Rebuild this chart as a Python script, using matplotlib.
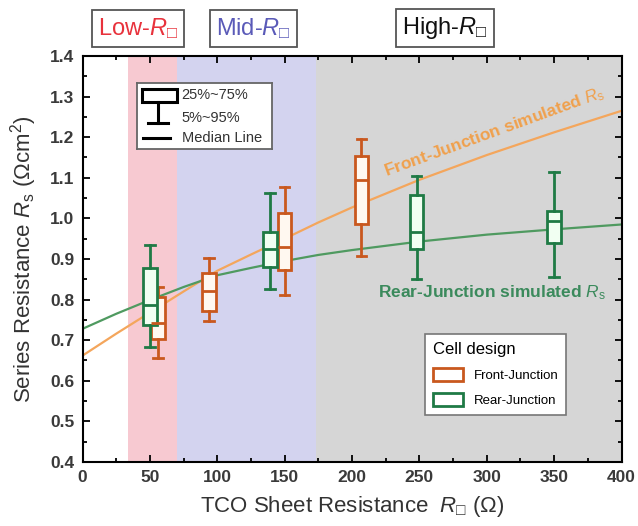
import matplotlib
matplotlib.use('Agg')
import matplotlib.pyplot as plt
from matplotlib.patches import Patch, Rectangle
from matplotlib.ticker import MultipleLocator

plt.rcParams['font.family'] = ['Liberation Sans', 'DejaVu Sans']
plt.rcParams['mathtext.fontset'] = 'custom'
plt.rcParams['mathtext.rm'] = 'Liberation Sans'
plt.rcParams['mathtext.it'] = 'Liberation Sans:italic'
plt.rcParams['mathtext.bf'] = 'Liberation Sans:bold'

# measured distributions (whisker low, q1, median, q3, whisker high)
front_pos = [56, 94, 150, 207]
front_lo = [0.657, 0.748, 0.812, 0.908]
front_q1 = [0.702, 0.773, 0.873, 0.985]
front_med = [0.742, 0.822, 0.930, 1.095]
front_q3 = [0.807, 0.865, 1.014, 1.154]
front_hi = [0.830, 0.902, 1.077, 1.196]

rear_pos = [50, 139, 248, 350]
rear_lo = [0.683, 0.826, 0.850, 0.855]
rear_q1 = [0.737, 0.881, 0.924, 0.940]
rear_med = [0.787, 0.925, 0.967, 0.994]
rear_q3 = [0.877, 0.967, 1.058, 1.017]
rear_hi = [0.934, 1.063, 1.105, 1.114]

# simulated Rs curves
sim_x = [0, 25, 50, 75, 100, 125, 150, 175, 200, 250, 300, 350, 400]
sim_front = [0.662, 0.716, 0.768, 0.820, 0.871, 0.911, 0.950, 0.990, 1.027, 1.095, 1.156, 1.212, 1.265]
sim_rear = [0.728, 0.765, 0.799, 0.831, 0.860, 0.878, 0.895, 0.910, 0.922, 0.943, 0.960, 0.973, 0.985]

regions = [(34, 70, '#f7c9d1'), (70, 173.5, '#d3d3ef'), (173.5, 400, '#d6d6d6')]

c_front = '#c9581e'
c_rear = '#1f7a45'
RSQ = r'$\mathit{R}_{\mathrm{□}}$'

fig = plt.figure(figsize=(6.38, 5.26), dpi=100)
ax = fig.add_axes([82.5 / 638, 1 - 462 / 526, 539 / 638, 406 / 526])

for x0, x1, col in regions:
    ax.axvspan(x0, x1, color=col, lw=0, zorder=0)

ax.plot(sim_x, sim_front, color='#f4a65c', lw=1.6, zorder=2)
ax.plot(sim_x, sim_rear, color='#4f9a60', lw=1.6, zorder=2)


def stats(pos, lo, q1, med, q3, hi):
    return [dict(whislo=a, q1=b, med=c, q3=d, whishi=e, fliers=[])
            for a, b, c, d, e in zip(lo, q1, med, q3, hi)]


for s, p, col, fill in [
        (stats(front_pos, front_lo, front_q1, front_med, front_q3, front_hi), front_pos, c_front, '#fff8f0'),
        (stats(rear_pos, rear_lo, rear_q1, rear_med, rear_q3, rear_hi), rear_pos, c_rear, '#f1fff2')]:
    ax.bxp(s, positions=p, widths=10, capwidths=7, patch_artist=True, manage_ticks=False,
           boxprops=dict(facecolor=fill, edgecolor=col, lw=2),
           whiskerprops=dict(color=col, lw=2), capprops=dict(color=col, lw=2),
           medianprops=dict(color=col, lw=2), zorder=3)

ax.set_xlim(0, 400)
ax.set_ylim(0.4, 1.4)
ax.xaxis.set_major_locator(MultipleLocator(50))
ax.xaxis.set_minor_locator(MultipleLocator(25))
ax.yaxis.set_major_locator(MultipleLocator(0.1))
ax.yaxis.set_minor_locator(MultipleLocator(0.05))
ax.tick_params(which='both', direction='in', top=True, right=True, width=1.3)
ax.tick_params(which='major', length=5, labelsize=12.5, labelcolor='#3a3a3a', pad=6)
ax.tick_params(which='minor', length=3)
for lab in ax.get_xticklabels() + ax.get_yticklabels():
    lab.set_fontweight('bold')
for sp in ax.spines.values():
    sp.set_linewidth(1.5)

ax.set_xlabel('TCO Sheet Resistance  ' + RSQ + r' ($\Omega$)', fontsize=16, color='#333333', labelpad=6)
ax.set_ylabel(r'Series Resistance $\mathit{R}_\mathrm{s}$ ($\Omega$cm$^2$)', fontsize=16, color='#333333', labelpad=8)

# region labels above the plot
for xc, txt, col in [(41.5, 'Low-' + RSQ, '#e8323c'),
                     (127, 'Mid-' + RSQ, '#5a5ab8'),
                     (269, 'High-' + RSQ, '#111111')]:
    ax.text(xc, 1.068, txt, transform=ax.get_xaxis_transform(), ha='center', va='center',
            fontsize=17, color=col, clip_on=False,
            bbox=dict(boxstyle='square,pad=0.25', fc='white', ec='#555555', lw=1.3))

ax.text(306, 1.213, r'Front-Junction simulated $\mathit{R}_\mathrm{s}$',
        color='#f0a04c', fontsize=12.5, fontweight='bold', rotation=20,
        ha='center', va='center', rotation_mode='anchor', zorder=4)
ax.text(304, 0.818, r'Rear-Junction simulated $\mathit{R}_\mathrm{s}$',
        color='#3b8a5c', fontsize=12.5, fontweight='bold', ha='center', va='center', zorder=4)

handles = [Patch(facecolor='white', edgecolor=c_front, lw=2, label='Front-Junction'),
           Patch(facecolor='white', edgecolor=c_rear, lw=2, label='Rear-Junction')]
leg = ax.legend(handles=handles, title='Cell design', loc='upper left',
                bbox_to_anchor=((425 - 82.5) / 539, (462 - 334) / 406),
                fontsize=9.5, title_fontsize=12, alignment='left', fancybox=False,
                framealpha=1, edgecolor='#777777', handlelength=2.3, handleheight=1.1,
                borderaxespad=0, labelspacing=0.85, borderpad=0.6)
leg.get_frame().set_linewidth(1.2)
leg.set_zorder(5)

# box-plot key
kx = fig.add_axes([136.7 / 638, 1 - 149.3 / 526, 135 / 638, 66.6 / 526])
kx.set_xlim(0, 135)
kx.set_ylim(66.6, 0)
kx.set_xticks([])
kx.set_yticks([])
for sp in kx.spines.values():
    sp.set_edgecolor('#666666')
    sp.set_linewidth(1.3)
kx.add_patch(Rectangle((5, 6.6), 35, 12.4, fill=False, ec='black', lw=2.2))
kx.plot([21.6, 21.6], [19, 40.6], color='black', lw=2.2)
kx.plot([11.6, 31.6], [40.6, 40.6], color='black', lw=2.2)
kx.plot([6.6, 33.3], [55.6, 55.6], color='black', lw=2.2)
for yy, txt in [(12.3, '25%~75%'), (35.6, '5%~95%'), (55.6, 'Median Line')]:
    kx.text(45, yy, txt, fontsize=10.5, color='#333333', va='center', ha='left')

fig.savefig('out.png', dpi=100)
